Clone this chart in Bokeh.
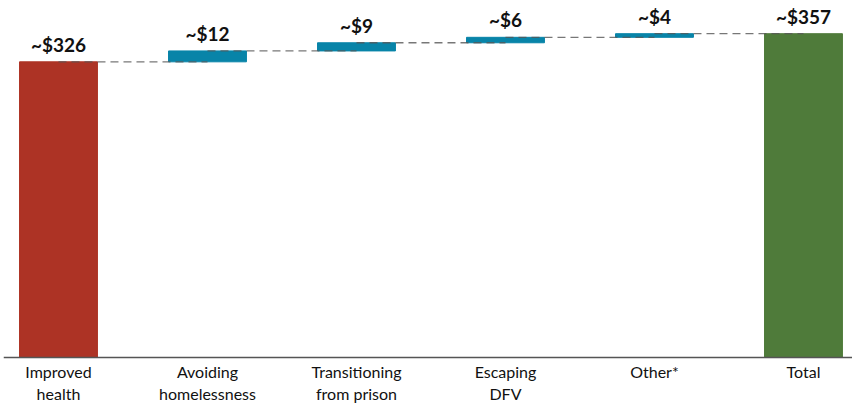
from bokeh.plotting import figure
from bokeh.models import ColumnDataSource, Range1d, Span
from bokeh.core.properties import value
from bokeh.embed import file_html
from bokeh.resources import INLINE

categories = ["Improved\nhealth", "Avoiding\nhomelessness", "Transitioning\nfrom prison",
              "Escaping\nDFV", "Other*", "Total"]
values = [326, 12, 9, 6, 4, 357]
labels = ["~$326", "~$12", "~$9", "~$6", "~$4", "~$357"]
kinds = ["start", "step", "step", "step", "step", "total"]

colors = {"start": "#AD3325", "step": "#0884A8", "total": "#4F7B3A"}

x = list(range(len(categories)))
bottoms, tops = [], []
running = 0
for v, k in zip(values, kinds):
    if k == "total":
        b, t = 0, v
    elif k == "start":
        b, t = 0, v
        running = v
    else:
        b, t = running, running + v
        running = t
    bottoms.append(b)
    tops.append(t)

src = ColumnDataSource(dict(x=x, bottom=bottoms, top=tops, label=labels,
                            color=[colors[k] for k in kinds], cat=categories,
                            zero=[0] * len(x)))

p = figure(width=852, height=405, output_backend="svg", toolbar_location=None,
           x_range=Range1d(-0.369, 5.329), y_range=Range1d(-52.9, 393.6),
           min_border_left=3, min_border_right=0, min_border_top=0, min_border_bottom=0)
p.outline_line_color = None
p.grid.visible = False
p.axis.visible = False

p.vbar(x="x", bottom="bottom", top="top", width=0.523, color="color", source=src)

# connectors
cx0, cx1, cy = [], [], []
for i in range(len(x) - 1):
    cx0.append(x[i]); cx1.append(x[i + 1]); cy.append(tops[i])
p.segment(x0=cx0, y0=cy, x1=cx1, y1=cy, line_color="#555555", line_alpha=0.8,
          line_width=1.3, line_dash="8 5")

# value labels
p.text(x="x", y="top", text="label", source=src, text_align="center",
       text_baseline="bottom", y_offset=-6, text_font=value("Lato"),
       text_font_style="bold", text_font_size="19px", text_color="#111111")

# baseline axis line
p.add_layout(Span(location=0, dimension="width", line_color="#555555", line_width=1.5))

# category labels
p.text(x="x", y="zero", text="cat", source=src, text_align="center",
       text_baseline="top", y_offset=4, text_font=value("Lato"),
       text_font_size="16px", text_color="#111111", text_line_height=1.18)

open("out.html", "w").write(file_html(p, INLINE))
